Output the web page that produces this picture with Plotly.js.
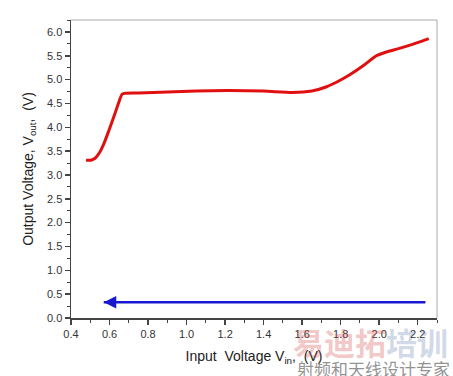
<!DOCTYPE html>
<html><head><meta charset="utf-8">
<script src="https://cdn.plot.ly/plotly-3.0.1.min.js"></script>
<style>html,body{margin:0;padding:0;background:#fff}#chart{width:453px;height:376px}</style>
</head><body><div id="chart"></div>
<script>
// Red curve: output voltage vs input voltage
const vinUp = [0.478, 0.503, 0.525, 0.55, 0.575, 0.6, 0.625, 0.648, 0.667, 0.75, 0.9, 1.05, 1.21, 1.4, 1.55, 1.65, 1.727, 1.79, 1.847, 1.92, 1.985, 2.037, 2.1, 2.18, 2.257];
const voutUp = [3.31, 3.31, 3.35, 3.48, 3.70, 3.97, 4.25, 4.52, 4.70, 4.72, 4.74, 4.76, 4.77, 4.76, 4.73, 4.76, 4.85, 4.97, 5.10, 5.30, 5.50, 5.58, 5.65, 5.75, 5.86];
// Blue arrow (sweep back)
const arrowX = [2.24, 0.57];
const arrowY = [0.33, 0.33];

const xTickVals = [0.4,0.6,0.8,1.0,1.2,1.4,1.6,1.8,2.0,2.2];
const yTickVals = [0,0.5,1,1.5,2,2.5,3,3.5,4,4.5,5,5.5,6];

const traces = [
  {x: vinUp, y: voutUp, mode: 'lines', line: {color: '#e01010', width: 3, shape: 'spline', smoothing: 0.6}, hoverinfo: 'none'},
  {x: arrowX, y: arrowY, mode: 'lines', line: {color: '#1818d0', width: 2.5}, hoverinfo: 'none'}
];

const axisCommon = {
  showgrid: false, zeroline: false, showline: true, linecolor: '#444', linewidth: 1.5,
  ticks: 'outside', ticklen: 5, tickwidth: 1.5, tickcolor: '#444',
  tickfont: {family: 'Liberation Sans, Arial', size: 11, color: '#333'},
  mirror: false
};

const layout = {
  width: 453, height: 376,
  margin: {l: 71, r: 16, t: 20, b: 58},
  paper_bgcolor: '#fff', plot_bgcolor: '#fff',
  showlegend: false,
  xaxis: Object.assign({}, axisCommon, {
    range: [0.4, 2.3], tickvals: xTickVals, ticktext: xTickVals.map(v => v.toFixed(1)),
    minor: {dtick: 0.1, ticks: 'outside', ticklen: 3, tickcolor: '#444', tickwidth: 1},
    title: {text: 'Input  Voltage V<sub>in</sub>,  (V)', font: {family: 'Liberation Sans, Arial', size: 14, color: '#222'}, standoff: 12}
  }),
  yaxis: Object.assign({}, axisCommon, {
    range: [0, 6.25], tickvals: yTickVals, ticktext: yTickVals.map(v => v.toFixed(1)),
    minor: {dtick: 0.25, ticks: 'outside', ticklen: 3, tickcolor: '#444', tickwidth: 1},
    title: {text: 'Output Voltage, V<sub>out</sub>,  (V)', font: {family: 'Liberation Sans, Arial', size: 14, color: '#222'}, standoff: 10}
  }),
  shapes: [
    {type: 'line', xref: 'paper', yref: 'paper', x0: 0, x1: 1, y0: 1, y1: 1, line: {color: '#aaa', width: 1}},
    {type: 'line', xref: 'paper', yref: 'paper', x0: 1, x1: 1, y0: 0, y1: 1, line: {color: '#aaa', width: 1}}
  ],
  annotations: [
    {x: arrowX[1], y: arrowY[1], ax: arrowX[1] + 0.06, ay: arrowY[1], axref: 'x', ayref: 'y', xref: 'x', yref: 'y',
     showarrow: true, arrowhead: 2, arrowsize: 1, arrowwidth: 2.5, arrowcolor: '#1818d0', text: ''},
    {xref: 'paper', yref: 'paper', x: 1.035, y: -0.08, xanchor: 'right', yanchor: 'middle', showarrow: false,
     text: '<b><span style="color:rgba(215,80,80,0.6)">易迪拓</span><span style="color:rgba(95,125,170,0.55)">培训</span></b>',
     font: {family: 'Noto Sans CJK SC', size: 31, color: 'rgba(210,70,70,0.55)'}},
    {xref: 'paper', yref: 'paper', x: 1.04, y: -0.168, xanchor: 'right', yanchor: 'middle', showarrow: false,
     text: '射频和天线设计专家', font: {family: 'Noto Sans CJK SC', size: 17, color: 'rgba(110,110,110,0.75)'}}
  ]
};

Plotly.newPlot('chart', traces, layout, {displayModeBar: false, staticPlot: true});
</script></body></html>
